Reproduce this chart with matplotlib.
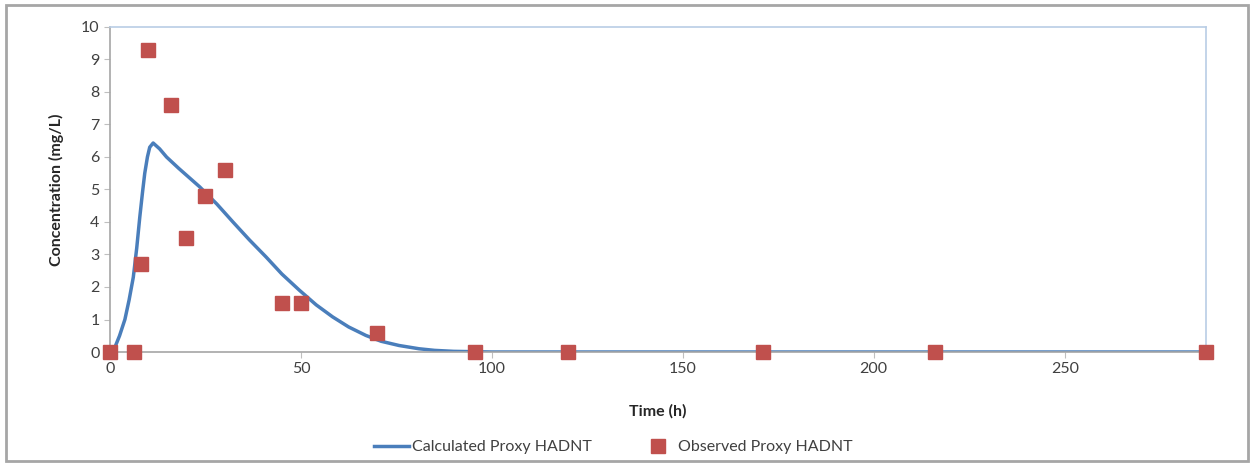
import matplotlib.pyplot as plt
from matplotlib.patches import Rectangle

plt.rcParams['font.family'] = ['Lato', 'DejaVu Sans']

# calculated curve
calc_t = [0, 1.3, 2.5, 3.9, 5, 6.1, 7, 7.8, 8.5, 9.1, 9.8, 10.4, 11.3, 13, 14.8, 18, 23.5, 28,
          32.2, 36.5, 40.9, 45, 49.6, 54, 58.3, 62.5, 67, 71, 75.7, 80.9, 85, 90, 95, 100, 287]
calc_c = [0, 0.15, 0.5, 1.0, 1.6, 2.3, 3.2, 4.15, 4.9, 5.5, 6.0, 6.3, 6.43, 6.25, 6.0, 5.65, 5.08, 4.55,
          4.0, 3.45, 2.92, 2.4, 1.9, 1.45, 1.08, 0.77, 0.51, 0.33, 0.2, 0.1, 0.05, 0.02, 0.01, 0, 0]

# observed points
obs_t = [0, 6.3, 8.1, 9.9, 16, 20, 25, 30, 45, 50, 70, 95.5, 120, 171, 216, 287]
obs_c = [0, 0, 2.7, 9.3, 7.6, 3.5, 4.8, 5.6, 1.5, 1.5, 0.6, 0, 0, 0, 0, 0]

fig = plt.figure(figsize=(12.52, 4.65), dpi=100)
fig.patches.append(Rectangle((6 / 1252, 4 / 465), 1242 / 1252, 456 / 465, transform=fig.transFigure,
                             fill=False, edgecolor='#a6a6a6', linewidth=2))
ax = fig.add_axes([110 / 1252, 1 - 352 / 465, 1096 / 1252, 325 / 465])

ax.plot(calc_t, calc_c, color='#4a7ebb', linewidth=2.5, label='Calculated Proxy HADNT', zorder=2,
        solid_joinstyle='round')
ax.plot(obs_t, obs_c, 's', color='#c0504d', markersize=10.5, linestyle='none',
        label='Observed Proxy HADNT', zorder=3, clip_on=False)

ax.set_xlim(0, 287)
ax.set_ylim(0, 10)
ax.set_xticks([0, 50, 100, 150, 200, 250])
ax.set_yticks(range(0, 11))
ax.tick_params(colors='#bfbfbf', labelcolor='#404040', labelsize=11.5, length=4, direction='out')

ax.spines['left'].set_color('#a6a6a6')
ax.spines['bottom'].set_color('#a6a6a6')
ax.spines['top'].set_color('#b9cde5')
ax.spines['right'].set_color('#b9cde5')
for s in ax.spines.values():
    s.set_linewidth(1.2)

ax.set_xlabel('Time (h)', fontsize=11.5, fontweight='bold', color='#262626', labelpad=20)
ax.set_ylabel('Concentration (mg/L)', fontsize=11.5, fontweight='bold', color='#262626', labelpad=12)

fig.legend(loc='center', bbox_to_anchor=(0.49, 1 - 447 / 465), ncol=2, frameon=False,
           fontsize=11.5, handlelength=2.2, columnspacing=3, handletextpad=0.2,
           labelcolor='#404040')

fig.savefig('out.png', dpi=100)
